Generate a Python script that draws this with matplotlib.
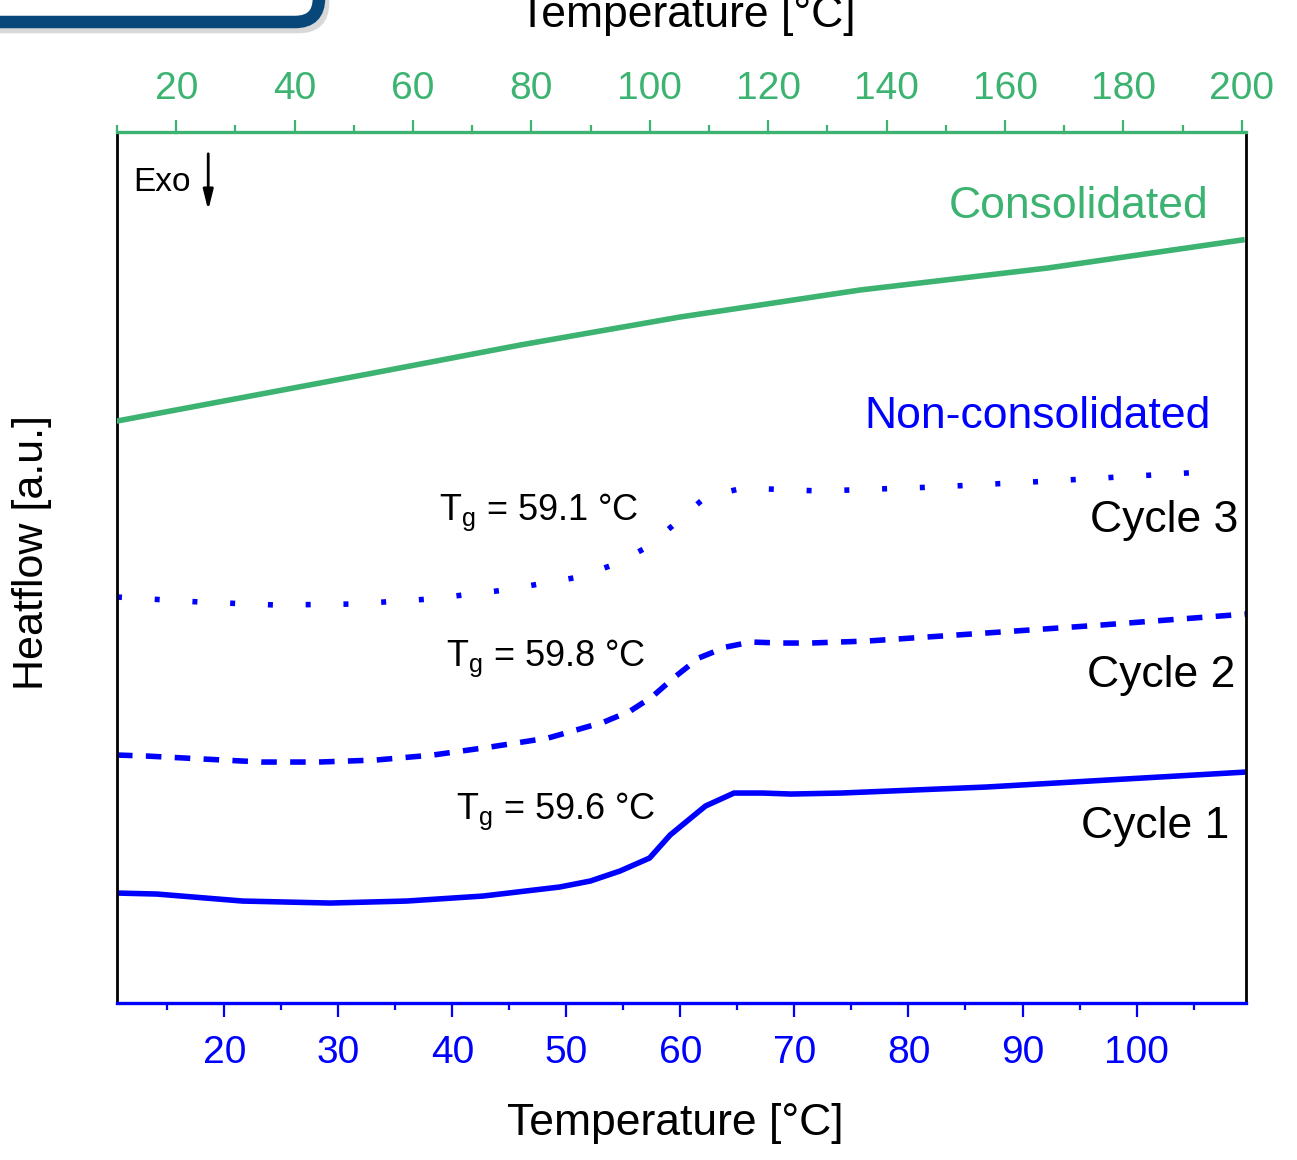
"""DSC heatflow curves: consolidated vs non-consolidated (3 cycles)"""

import matplotlib
matplotlib.use('Agg')
import matplotlib.pyplot as plt
from matplotlib.patches import FancyBboxPatch
from matplotlib.transforms import IdentityTransform

plt.rcParams['font.family'] = ['Liberation Sans', 'DejaVu Sans']
plt.rcParams['mathtext.fontset'] = 'custom'
plt.rcParams['mathtext.rm'] = 'Liberation Sans'
plt.rcParams['mathtext.it'] = 'Liberation Sans:italic'

GREEN = '#3cb371'; BLUE = '#0000ff'

# Consolidated sample (top temperature axis, 10-200 degC)
cons_T = [10, 52.4, 78.1, 105.1, 135.5, 167.2, 200]
cons_hf = [5.82, 6.29, 6.58, 6.86, 7.13, 7.35, 7.63]

# Non-consolidated sample (bottom temperature axis)
c1_T = [10.6, 14.1, 21.6, 29.3, 36.0, 42.7, 49.4, 52.1, 54.7, 57.3, 59.1, 60.7,
        62.2, 64.7, 67.2, 69.7, 74.1, 86.8, 109.6]
c1_hf = [1.10, 1.09, 1.02, 1.00, 1.02, 1.07, 1.16, 1.22, 1.32, 1.45, 1.68, 1.83,
         1.97, 2.10, 2.10, 2.09, 2.10, 2.16, 2.31]
c2_T = [10.6, 13.2, 18.2, 23.3, 28.3, 33.3, 38.3, 43.3, 48.4, 53.3, 55.6, 57.5,
        59.4, 61.6, 64.0, 66.2, 68.8, 71.4, 76.4, 86.8, 96.9, 109.6]
c2_hf = [2.48, 2.47, 2.44, 2.41, 2.41, 2.43, 2.48, 2.56, 2.65, 2.81, 2.92, 3.06,
         3.25, 3.45, 3.56, 3.61, 3.60, 3.60, 3.62, 3.70, 3.78, 3.89]
c3_T = [10.6, 17.9, 24.6, 31.3, 38.0, 44.6, 51.1, 54.3, 57.1, 59.6, 62.2, 65.5,
        72.3, 82.3, 92.4, 105.9]
c3_hf = [4.06, 4.01, 3.98, 3.99, 4.04, 4.13, 4.26, 4.39, 4.56, 4.80, 5.06, 5.15,
         5.12, 5.16, 5.22, 5.31]

tg_labels = ['59.1', '59.8', '59.6']

fig = plt.figure(figsize=(12.97, 11.6), dpi=100)

# rounded frame fragment in the top-left corner
shadow = FancyBboxPatch((-36, 1133), 359, 120, boxstyle='round,pad=0,rounding_size=24',
                        transform=IdentityTransform(), fc='none', ec='#c8c8c8', lw=9, alpha=0.7)
frame = FancyBboxPatch((-40, 1138), 359, 120, boxstyle='round,pad=0,rounding_size=24',
                       transform=IdentityTransform(), fc='white', ec='#07477a', lw=9)
fig.patches.extend([shadow, frame])

ax = fig.add_axes([0.0902, 0.1353, 0.8705, 0.7509])
ax.plot(c1_T, c1_hf, color=BLUE, lw=4.0, solid_joinstyle='round')
ax.plot(c2_T, c2_hf, color=BLUE, lw=4.0, ls=(0, (2.8, 2.4)), dash_capstyle='butt')
ax.plot(c3_T, c3_hf, color=BLUE, lw=4.0, ls=(0, (0.9, 5.9)), dash_capstyle='butt')
ax.set_xlim(10.6, 109.6); ax.set_ylim(0, 8.71)
ax.set_xticks(range(20, 101, 10)); ax.set_xticks(range(15, 110, 10), minor=True)
ax.set_yticks([])
ax.tick_params(axis='x', which='major', direction='out', length=10, width=1.6,
               color=BLUE, labelcolor=BLUE, labelsize=28, pad=13)
ax.tick_params(axis='x', which='minor', direction='out', length=5, width=1.6, color=BLUE)
ax.spines['bottom'].set_color(BLUE); ax.spines['bottom'].set_linewidth(2.4)
for s in ['left', 'right']:
    ax.spines[s].set_color('black'); ax.spines[s].set_linewidth(2.0)
ax.spines['top'].set_visible(False)

ax2 = ax.twiny()
ax2.plot(cons_T, cons_hf, color=GREEN, lw=4.0)
ax2.set_xlim(10, 200.7)
ax2.set_xticks(range(20, 201, 20)); ax2.set_xticks(range(10, 200, 20), minor=True)
ax2.tick_params(axis='x', which='major', direction='out', length=9, width=1.6,
                color=GREEN, labelcolor=GREEN, labelsize=28, pad=9)
ax2.tick_params(axis='x', which='minor', direction='out', length=5, width=1.6, color=GREEN)
ax2.spines['top'].set_color(GREEN); ax2.spines['top'].set_linewidth(2.4)
for s in ['left', 'right', 'bottom']:
    ax2.spines[s].set_visible(False)

# annotations
ax.text(106.3, 7.85, 'Consolidated', color=GREEN, fontsize=32, ha='right', va='baseline')
ax.text(106.5, 5.75, 'Non-consolidated', color=BLUE, fontsize=32, ha='right', va='baseline')
ax.text(108.9, 4.71, 'Cycle 3', fontsize=32, ha='right', va='baseline')
ax.text(108.7, 3.16, 'Cycle 2', fontsize=32, ha='right', va='baseline')
ax.text(108.1, 1.65, 'Cycle 1', fontsize=32, ha='right', va='baseline')
for x, y, tg in zip([38.85, 39.45, 40.3], [4.83, 3.37, 1.84], tg_labels):
    ax.text(x, y, r'T$_\mathregular{g}$ = ' + tg + ' °C', fontsize=26, ha='left', va='baseline')
ax.text(12.05, 8.12, 'Exo', fontsize=24, ha='left', va='baseline')
ax.annotate('', xy=(18.6, 7.9), xytext=(18.6, 8.52),
            arrowprops=dict(arrowstyle='-|>,head_length=1.2,head_width=0.3', color='black', lw=2.0))

fig.text(675 / 1297, 1 - 1135 / 1160, 'Temperature [°C]', fontsize=32, ha='center', va='baseline')
fig.text(687 / 1297, 1 - 27 / 1160, 'Temperature [°C]', fontsize=32, ha='center', va='baseline')
fig.text(32 / 1297, 1 - 553 / 1160, 'Heatflow [a.u.]', fontsize=31, rotation=90, ha='center', va='center')

plt.savefig('out.png', dpi=100)
